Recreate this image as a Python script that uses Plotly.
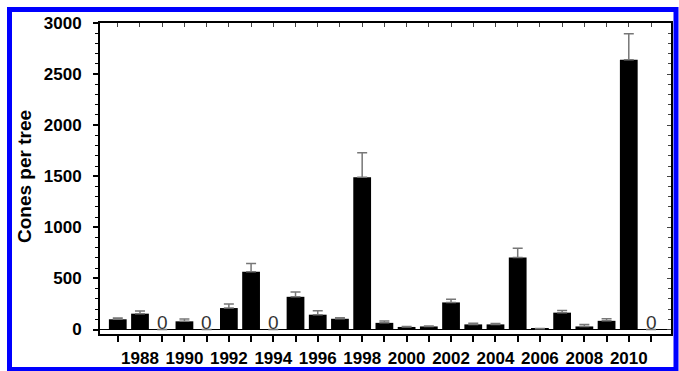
import plotly.graph_objects as go

years = list(range(1987, 2012))
cones = [100, 155, 0, 80, 0, 210, 565, 0, 320, 145, 105, 1490, 65, 25, 30,
         265, 50, 50, 705, 8, 165, 30, 85, 2640, 0]
cones_err = [12, 25, 0, 22, 0, 40, 80, 0, 48, 38, 10, 240, 18, 5, 5,
             30, 12, 8, 90, 3, 22, 18, 20, 255, 0]
tick_years = years
tick_labels = [str(y) if y % 2 == 0 else "" for y in years]
y_ticks = [0, 500, 1000, 1500, 2000, 2500, 3000]

W, H = 679, 371
ml, mr, mt, mb = 100, 8, 23, 37
pw, ph = W - ml - mr, H - mt - mb
XR = [1986.2, 2011.9]
YR = [-44, 3000]

FONT = "Arial, Liberation Sans, sans-serif"

fig = go.Figure()
fig.add_trace(go.Bar(
    x=years, y=cones, width=0.8,
    marker=dict(color="black", line=dict(width=0)),
    error_y=dict(type="data", array=cones_err, arrayminus=[0] * len(years),
                 symmetric=False, color="#777777", thickness=1.5, width=5),
    hoverinfo="skip",
))
# invisible trace that carries the top/right tick axes
fig.add_trace(go.Scatter(x=[years[0]], y=[0], xaxis="x2", yaxis="y2",
                         mode="markers", marker=dict(opacity=0), hoverinfo="skip"))

annotations = []
for yr, v in zip(years, cones):
    if v == 0:
        annotations.append(dict(x=yr, y=0, xref="x", yref="y", text="0",
                                showarrow=False, yanchor="bottom", yshift=-5,
                                font=dict(family=FONT, size=19, color="#333333")))

def px_x(p):
    return (p - ml) / pw

def px_y(p):
    return 1 - (p - mt) / ph

annotations.append(dict(x=px_x(25), y=px_y(177), xref="paper", yref="paper",
                        text="<b>Cones per tree</b>", textangle=-90, showarrow=False,
                        xanchor="center", yanchor="middle",
                        font=dict(family=FONT, size=19, color="black")))

shapes = [dict(type="rect", xref="paper", yref="paper",
               x0=px_x(9.5), x1=px_x(676), y0=px_y(9.5), y1=px_y(369.5),
               line=dict(color="#0000ff", width=5), fillcolor="rgba(0,0,0,0)",
               layer="above")]

fig.update_layout(
    width=W, height=H, autosize=False,
    margin=dict(l=ml, r=mr, t=mt, b=mb, pad=0, autoexpand=False),
    paper_bgcolor="white", plot_bgcolor="white",
    showlegend=False,
    font=dict(family=FONT, color="black"),
    annotations=annotations,
    shapes=shapes,
    xaxis=dict(range=XR, tickvals=tick_years, ticktext=tick_labels, automargin=False,
               ticks="outside", ticklen=6, tickwidth=1.5, tickcolor="black",
               showline=True, linecolor="black", linewidth=2, mirror=True,
               showgrid=False, zeroline=False, ticklabelstandoff=2,
               tickfont=dict(family=FONT, size=17, color="black", weight="bold")),
    yaxis=dict(range=YR, tickvals=y_ticks, automargin=False,
               ticks="outside", ticklen=5, tickwidth=1.5, tickcolor="black",
               minor=dict(dtick=100, ticks="outside", ticklen=3, tickcolor="black", tickwidth=1),
               showline=True, linecolor="black", linewidth=2, mirror=True,
               showgrid=False, zeroline=True, zerolinecolor="black", zerolinewidth=1,
               ticklabelstandoff=8,
               tickfont=dict(family=FONT, size=17, color="black", weight="bold")),
    xaxis2=dict(range=XR, overlaying="x", side="top", tickvals=tick_years, automargin=False,
                ticks="inside", ticklen=4, tickwidth=1, tickcolor="#444444",
                showticklabels=False, showline=False, showgrid=False, zeroline=False),
    yaxis2=dict(range=YR, overlaying="y", side="right", tickvals=y_ticks, automargin=False,
                ticks="inside", ticklen=4, tickwidth=1, tickcolor="#444444",
                minor=dict(dtick=100, ticks="inside", ticklen=3, tickcolor="#444444", tickwidth=1),
                showticklabels=False, showline=False, showgrid=False, zeroline=False),
)

fig.write_html("out.html", config={"displayModeBar": False},
               post_script="document.body.style.margin='0';")
